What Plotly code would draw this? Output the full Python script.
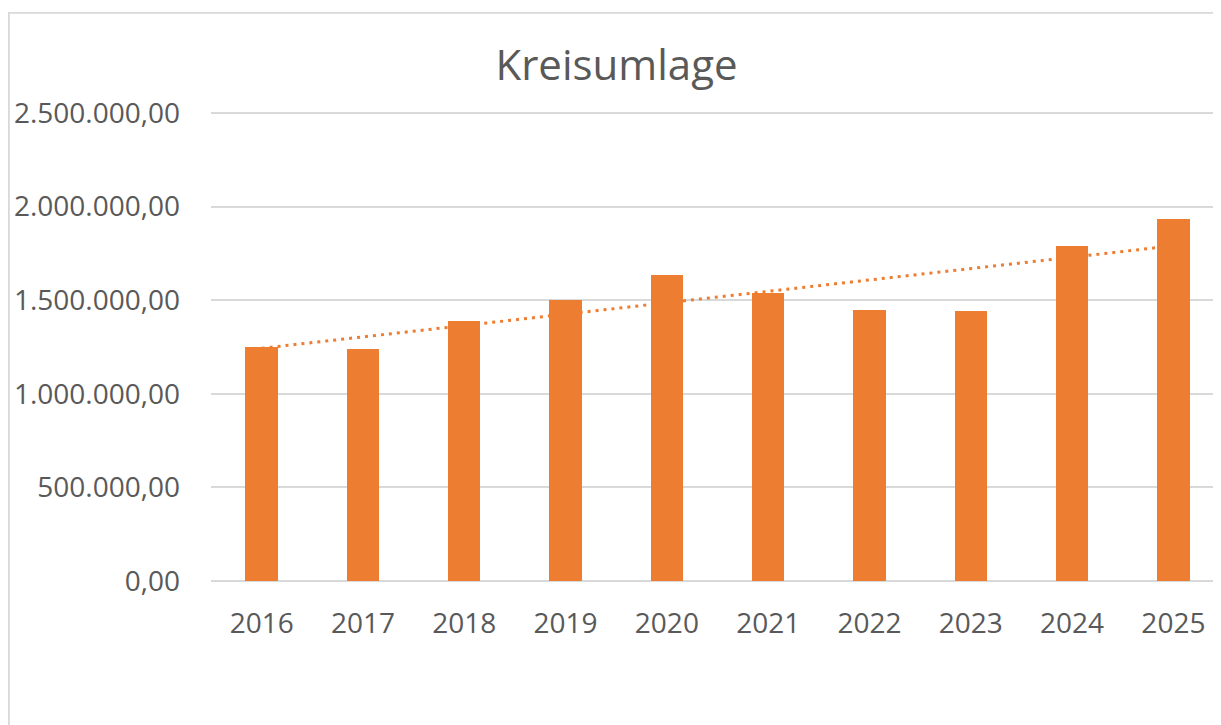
import numpy as np
import plotly.graph_objects as go

years = ["2016", "2017", "2018", "2019", "2020", "2021", "2022", "2023", "2024", "2025"]
kreisumlage = [1250000, 1239000, 1387000, 1503000, 1633000, 1538000, 1448000, 1443000, 1790000, 1934000]
y_ticks = [0, 500000, 1000000, 1500000, 2000000, 2500000]

idx = np.arange(len(years))
slope, intercept = np.polyfit(idx, np.array(kreisumlage, dtype=float), 1)
trend = (slope * idx + intercept).tolist()

ORANGE = "#ED7D31"
GRID = "#D9D9D9"
TEXT = "#595959"
FONT = "Open Sans"

fig = go.Figure()
fig.add_trace(go.Scatter(
    x=years, y=trend, mode="lines",
    line=dict(color=ORANGE, width=3, dash="3px,5px"),
    showlegend=False, hoverinfo="skip",
))
fig.add_trace(go.Bar(
    x=years, y=kreisumlage, width=0.32,
    marker=dict(color=ORANGE, line=dict(width=0)),
    showlegend=False,
))

# the page places the figure 8px from the top-left corner
OFF = 8
VW, VH = 1221, 725
W, H = VW - OFF, VH - OFF
YMAX = 2500000
ytop = YMAX * 1.004  # a hair above the top tick so its gridline is drawn
zero_px, top_px = 581 - OFF, 113 - OFF
px_per_unit = (zero_px - top_px) / YMAX
T = zero_px - ytop * px_per_unit
L, R, B = 211 - OFF, 0, H - zero_px
pw = W - L - R
ph = H - T - B

border_left = 0.9          # figure px (page edge of the figure)
border_top = 13 - OFF      # figure px

fig.update_layout(
    width=W, height=H,
    margin=dict(l=L, r=R, t=T, b=B, pad=0),
    paper_bgcolor="white", plot_bgcolor="white",
    separators=",.",
    font=dict(family=FONT, color=TEXT, size=28),
    title=dict(
        text="Kreisumlage", font=dict(family=FONT, size=42, color=TEXT),
        xref="container", x=(616.5 - OFF) / W, xanchor="center",
        yref="container", y=1 - (65 - OFF) / H, yanchor="middle",
    ),
    xaxis=dict(
        type="category", range=[-0.5, 9.47],
        showgrid=False, showline=False, ticks="",
        ticklabelstandoff=23,
        tickfont=dict(family=FONT, size=28, color=TEXT),
    ),
    yaxis=dict(
        range=[0, ytop], tickvals=y_ticks, tickformat=",.2f",
        showgrid=True, gridcolor=GRID, gridwidth=1.5,
        zeroline=True, zerolinecolor=GRID, zerolinewidth=1.5,
        showline=False, ticks="",
        ticklabelstandoff=30,
        tickfont=dict(family=FONT, size=28, color=TEXT),
    ),
    bargap=0,
    shapes=[dict(
        type="rect", xref="paper", yref="paper",
        x0=(border_left - L) / pw, x1=(W + 10 - L) / pw,
        y0=-(B + 10) / ph, y1=(H - B - border_top) / ph,
        line=dict(color=GRID, width=1.8), fillcolor="rgba(0,0,0,0)",
        layer="below",
    )],
)

fig.write_html("out.html")
